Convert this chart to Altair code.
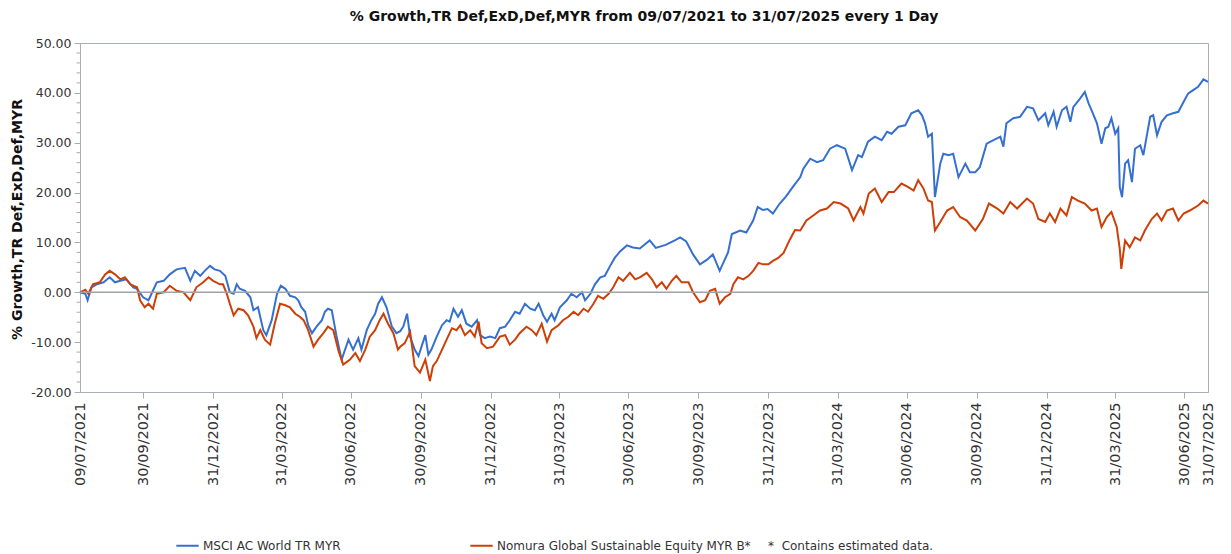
import altair as alt
import pandas as pd

START = "2021-07-09"
END = "2025-07-31"

SERIES = ["MSCI AC World TR MYR", "Nomura Global Sustainable Equity MYR B*"]
COLORS = ["#3570CF", "#CC4008"]

TITLE = "% Growth,TR Def,ExD,Def,MYR from 09/07/2021 to 31/07/2025 every 1 Day"
Y_TITLE = "% Growth,TR Def,ExD,Def,MYR"
NOTE = "*\u00a0\u00a0Contains estimated data."

TICK_DATES = ["2021-07-09", "2021-09-30", "2021-12-31", "2022-03-31", "2022-06-30",
              "2022-09-30", "2022-12-31", "2023-03-31", "2023-06-30", "2023-09-30",
              "2023-12-31", "2024-03-31", "2024-06-30", "2024-09-30", "2024-12-31",
              "2025-03-31", "2025-06-30", "2025-07-31"]

Y_MAJOR = [-20, -10, 0, 10, 20, 30, 40, 50]
Y_MINOR = [-18, -16, -14, -12, -8, -6, -4, -2, 2, 4, 6, 8, 12, 14, 16, 18,
           22, 24, 26, 28, 32, 34, 36, 38, 42, 44, 46, 48]

# days since 09/07/2021
msci_days = [0, 7, 10, 15, 22, 31, 39, 46, 53, 61,
             70, 75, 83, 90, 94, 101, 110, 118, 127, 138,
             145, 151, 158, 164, 171, 177, 184, 191, 197, 202,
             206, 210, 217, 224, 228, 234, 241, 245, 252, 259,
             264, 270, 276, 283, 287, 291, 296, 300, 305, 311,
             318, 322, 326, 331, 337, 344, 353, 359, 366, 370,
             377, 383, 388, 392, 397, 403, 410, 416, 421, 425,
             430, 434, 440, 445, 449, 454, 458, 462, 469, 476,
             482, 486, 491, 497, 502, 508, 515, 522, 526, 532,
             539, 546, 552, 559, 565, 572, 578, 585, 592, 598,
             603, 609, 614, 620, 624, 631, 640, 646, 653, 660,
             664, 671, 677, 684, 690, 697, 703, 710, 719, 727,
             736, 749, 757, 770, 782, 789, 797, 806, 815, 824,
             832, 841, 852, 857, 868, 876, 885, 891, 898, 904,
             911, 920, 928, 937, 947, 951, 960, 969, 977, 986,
             995, 1006, 1015, 1023, 1028, 1036, 1045, 1054, 1061, 1067,
             1076, 1085, 1093, 1102, 1107, 1111, 1115, 1120, 1124, 1131,
             1135, 1142, 1148, 1155, 1164, 1170, 1177, 1183, 1192, 1201,
             1210, 1214, 1218, 1227, 1236, 1245, 1253, 1260, 1269, 1273,
             1280, 1284, 1291, 1297, 1302, 1306, 1315, 1321, 1326, 1330,
             1337, 1343, 1348, 1352, 1356, 1361, 1365, 1367, 1370, 1374,
             1378, 1383, 1387, 1394, 1398, 1407, 1411, 1416, 1422, 1429,
             1437, 1444, 1451, 1457, 1464, 1470, 1477, 1483]

msci_vals = [0.0, -0.3, -1.6, 1.0, 1.6, 2.0, 3.0, 2.0, 2.3, 2.6,
             1.0, 0.7, -1.0, -1.6, -0.3, 2.0, 2.3, 3.6, 4.6, 4.9,
             2.3, 4.3, 3.3, 4.3, 5.3, 4.6, 4.3, 3.3, 0.0, -0.3,
             1.6, 0.7, 0.3, -1.0, -3.6, -3.0, -7.6, -8.6, -5.6, -0.3,
             1.3, 0.7, -0.7, -1.0, -1.6, -3.0, -3.9, -6.6, -8.2, -6.9,
             -5.6, -3.9, -3.3, -3.6, -8.6, -13.5, -9.5, -11.5, -9.2, -11.5,
             -7.6, -5.6, -4.3, -2.3, -1.0, -3.0, -6.9, -8.2, -7.8, -6.9,
             -4.3, -8.9, -11.5, -12.8, -10.9, -8.6, -12.5, -11.5, -8.9, -6.6,
             -5.6, -5.9, -3.3, -4.9, -3.6, -6.3, -6.9, -5.6, -8.6, -9.2,
             -8.9, -9.2, -7.2, -6.9, -5.6, -3.9, -4.3, -2.3, -3.3, -3.6,
             -2.3, -4.6, -5.9, -4.3, -5.6, -3.0, -1.6, -0.3, -1.0, 0.0,
             -1.6, -0.3, 1.6, 3.0, 3.3, 5.3, 6.9, 8.2, 9.4, 9.0,
             8.8, 10.4, 8.9, 9.5, 10.4, 11.0, 10.2, 7.6, 5.6, 6.5,
             7.6, 4.3, 8.0, 11.7, 12.4, 12.0, 14.4, 17.1, 16.5, 16.7,
             15.8, 17.8, 19.2, 21.1, 23.1, 24.8, 26.8, 26.1, 26.5, 28.8,
             29.5, 28.8, 24.5, 27.5, 27.1, 30.2, 31.2, 30.5, 32.2, 31.8,
             33.2, 33.5, 35.9, 36.5, 35.5, 33.9, 31.2, 31.8, 19.1, 25.8,
             27.8, 27.5, 27.8, 23.1, 25.8, 24.1, 24.1, 25.1, 29.8, 30.5,
             31.2, 29.2, 33.9, 34.9, 35.2, 37.2, 36.9, 34.5, 35.9, 33.5,
             36.2, 33.2, 36.5, 37.2, 34.2, 37.2, 38.9, 40.2, 37.9, 36.5,
             33.9, 29.8, 32.9, 33.2, 34.9, 31.8, 32.9, 21.1, 19.1, 25.8,
             26.5, 22.1, 28.8, 29.5, 27.5, 35.2, 35.5, 31.5, 34.2, 35.5,
             35.9, 36.2, 38.2, 39.9, 40.6, 41.2, 42.7, 42.2]

nomura_days = [0, 7, 11, 17, 26, 33, 39, 46, 53, 59,
               66, 75, 79, 85, 90, 96, 101, 110, 118, 127,
               136, 145, 153, 162, 169, 175, 184, 188, 193, 197,
               202, 208, 215, 221, 228, 232, 237, 243, 250, 256,
               263, 270, 276, 283, 289, 294, 300, 307, 313, 320,
               326, 333, 340, 346, 355, 362, 368, 375, 381, 388,
               394, 399, 405, 412, 418, 421, 427, 434, 440, 447,
               454, 460, 464, 469, 476, 482, 489, 495, 500, 506,
               513, 519, 524, 528, 535, 543, 552, 559, 565, 572,
               578, 587, 594, 600, 607, 614, 620, 629, 635, 642,
               649, 655, 662, 668, 675, 681, 688, 695, 701, 708,
               714, 723, 730, 736, 745, 752, 758, 765, 771, 778,
               784, 791, 800, 806, 815, 822, 828, 835, 841, 848,
               855, 859, 865, 872, 879, 885, 892, 898, 905, 911,
               918, 925, 933, 940, 947, 955, 964, 973, 982, 991,
               1000, 1010, 1017, 1026, 1030, 1037, 1045, 1054, 1063, 1070,
               1080, 1089, 1096, 1102, 1109, 1115, 1120, 1124, 1131, 1140,
               1148, 1157, 1166, 1177, 1187, 1195, 1206, 1214, 1223, 1232,
               1245, 1253, 1260, 1269, 1275, 1282, 1289, 1297, 1304, 1312,
               1321, 1330, 1337, 1343, 1350, 1356, 1363, 1367, 1369, 1374,
               1380, 1387, 1394, 1400, 1409, 1416, 1422, 1429, 1437, 1444,
               1451, 1459, 1470, 1477, 1483]

nomura_vals = [0.0, 0.5, -0.3, 1.6, 2.0, 3.6, 4.3, 3.6, 2.6, 3.0,
               1.6, 1.0, -1.6, -3.0, -2.3, -3.3, -0.3, 0.0, 1.3, 0.3,
               0.0, -1.6, 1.0, 2.0, 3.0, 2.3, 1.6, 1.6, -0.3, -2.3,
               -4.6, -3.3, -3.6, -4.6, -6.9, -9.2, -7.6, -9.5, -10.5, -6.3,
               -2.3, -2.6, -3.0, -4.3, -4.9, -5.6, -7.6, -10.9, -9.5, -8.2,
               -6.9, -7.6, -11.8, -14.5, -13.5, -12.2, -13.8, -11.5, -8.9, -7.6,
               -5.6, -4.3, -6.3, -8.2, -11.5, -10.9, -10.2, -7.9, -14.8, -16.1,
               -13.5, -17.8, -14.8, -13.8, -11.5, -9.5, -7.2, -7.6, -6.6, -8.6,
               -7.6, -8.9, -5.9, -10.2, -11.2, -10.9, -8.9, -8.6, -10.5, -9.5,
               -8.2, -6.9, -7.6, -8.6, -6.3, -9.9, -7.6, -6.6, -5.6, -4.9,
               -3.9, -4.6, -3.3, -3.9, -2.3, -0.7, -1.3, -0.3, 1.0, 3.0,
               2.3, 3.9, 2.6, 3.0, 3.9, 2.6, 1.0, 2.0, 0.7, 2.3,
               3.3, 2.0, 2.0, 0.0, -2.0, -1.6, 0.3, 0.7, -2.3, -1.0,
               -0.3, 1.6, 3.0, 2.6, 3.3, 4.3, 5.9, 5.6, 5.6, 6.3,
               6.9, 7.9, 10.5, 12.5, 12.4, 14.4, 15.4, 16.4, 16.8, 18.1,
               17.8, 16.8, 14.4, 17.1, 15.8, 19.8, 20.8, 18.1, 20.1, 20.1,
               21.8, 21.1, 20.4, 22.5, 20.8, 18.4, 18.1, 12.4, 14.1, 16.4,
               17.1, 15.1, 14.4, 12.4, 14.7, 17.8, 16.8, 15.8, 18.1, 16.8,
               18.8, 17.8, 14.7, 14.1, 15.8, 14.1, 16.8, 15.4, 19.1, 18.4,
               17.8, 16.4, 16.8, 13.1, 15.1, 16.1, 13.1, 8.7, 4.7, 10.4,
               9.0, 11.0, 10.4, 12.4, 14.7, 15.8, 14.4, 16.4, 16.8, 14.4,
               15.8, 16.4, 17.4, 18.4, 17.8]

base = pd.Timestamp(START)
df = pd.concat([
    pd.DataFrame({"date": base + pd.to_timedelta(msci_days, unit="D"),
                  "value": msci_vals, "series": SERIES[0]}),
    pd.DataFrame({"date": base + pd.to_timedelta(nomura_days, unit="D"),
                  "value": nomura_vals, "series": SERIES[1]}),
], ignore_index=True)


def dt(s):
    t = pd.Timestamp(s)
    return alt.DateTime(year=t.year, month=t.month, date=t.day)


FONT = "DejaVu Sans"
GRAY = "#a9adb4"
LABEL = "#333333"

x_enc = alt.X(
    "date:T",
    scale=alt.Scale(domain=[dt(START), dt(END)], nice=False),
    axis=alt.Axis(
        values=[dt(s) for s in TICK_DATES],
        format="%d/%m/%Y",
        labelAngle=270,
        labelFont=FONT,
        labelFontSize=14.5,
        labelColor=LABEL,
        labelPadding=4,
        labelFlush=False,
        labelOverlap=False,
        tickSize=6,
        tickColor=GRAY,
        tickOpacity={"condition": {"test": "datum.value < datetime(2021, 6, 10) || datum.value > datetime(2025, 6, 30)",
                                   "value": 0}, "value": 1},
        domainColor=GRAY,
        grid=False,
        title=None,
    ),
)

y_enc = alt.Y(
    "value:Q",
    scale=alt.Scale(domain=[-20, 50], nice=False, zero=False),
    axis=alt.Axis(
        values=Y_MAJOR,
        labelExpr="(datum.value < 0 ? '-' : '') + format(abs(datum.value), '.2f')",
        labelFont=FONT,
        labelFontSize=12.5,
        labelColor=LABEL,
        labelPadding=3,
        labelOverlap=False,
        tickSize=6,
        tickColor=GRAY,
        domainColor=GRAY,
        grid=False,
        title=Y_TITLE,
        titleFont=FONT,
        titleFontSize=14,
        titleFontWeight="bold",
        titleColor="#111111",
        titleAngle=270,
        titleX=-63,
        titleY=176,
        titleAlign="center",
        titleBaseline="middle",
    ),
)

lines = alt.Chart(df).mark_line(strokeWidth=2).encode(
    x=x_enc,
    y=y_enc,
    color=alt.Color(
        "series:N",
        scale=alt.Scale(domain=SERIES, range=COLORS),
        legend=alt.Legend(
            orient="none",
            legendX=95,
            legendY=490,
            direction="horizontal",
            title=None,
            symbolType="stroke",
            symbolSize=500,
            symbolStrokeWidth=2,
            labelFont=FONT,
            labelFontSize=12,
            labelColor=LABEL,
            labelOffset=3,
            labelLimit=0,
            columnPadding=125,
            padding=0,
        ),
    ),
    order=alt.Order("date:T"),
)

zero = alt.Chart(pd.DataFrame({"v": [0]})).mark_rule(color="#9ea2a9", strokeWidth=1.5).encode(
    y=alt.Y("v:Q")
)

minor = alt.Chart(pd.DataFrame({"m": Y_MINOR})).mark_rule(color=GRAY, strokeWidth=1).encode(
    y=alt.Y("m:Q"), x=alt.value(-3.5), x2=alt.value(0)
)

note = alt.Chart(pd.DataFrame({"t": [NOTE]})).mark_text(
    align="left", baseline="middle", font=FONT, fontSize=12, color=LABEL
).encode(text="t:N", x=alt.value(688), y=alt.value(503))

chart = alt.layer(lines, zero, minor, note).properties(
    width=1128,
    height=349,
    padding={"left": 72, "top": 35, "right": 15, "bottom": 162},
    autosize=alt.AutoSizeParams(type="none"),
    title=alt.TitleParams(
        text=TITLE, font=FONT, fontSize=14, fontWeight="bold", color="#111111",
        anchor="middle", baseline="alphabetic", offset=2,
    ),
).configure_view(stroke=GRAY, strokeWidth=1)

chart.save("out.html", embed_options={"renderer": "svg", "actions": False})
